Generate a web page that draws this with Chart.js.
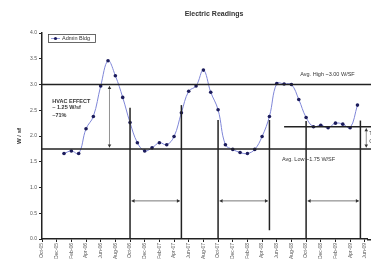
<!DOCTYPE html>
<html>
<head>
<meta charset="utf-8">
<script src="https://cdn.jsdelivr.net/npm/chart.js@4.4.1/dist/chart.umd.min.js"></script>
<style>
  html, body { margin: 0; padding: 0; background: #fff; overflow: hidden; }
</style>
</head>
<body>
<canvas id="chart" width="371" height="263"></canvas>
<script>
// months counted from Oct-05 (= 0), ticks every 2 months
const tickLabels = ['Oct-05','Dec-05','Feb-06','Apr-06','Jun-06','Aug-06','Oct-06','Dec-06',
  'Feb-07','Apr-07','Jun-07','Aug-07','Oct-07','Dec-07','Feb-08','Apr-08','Jun-08','Aug-08',
  'Oct-08','Dec-08','Feb-09','Apr-09','Jun-09'];

// Admin Bldg, monthly W/sf, Jan-06 .. May-09
const firstMonth = 3;
const readings = [
  1.66, 1.71, 1.66, 2.14, 2.38, 2.97, 3.46, 3.17, 2.75, 2.26, 1.87, 1.71,
  1.77, 1.87, 1.83, 1.99, 2.45, 2.87, 2.97, 3.28, 2.85, 2.51, 1.83, 1.74,
  1.68, 1.66, 1.74, 1.99, 2.38, 3.02, 3.01, 3.00, 2.71, 2.36, 2.18, 2.21,
  2.16, 2.25, 2.23, 2.16, 2.60
];

const avgHigh = 3.0;
const avgLow = 1.75;
const newLevel = 2.18;      // starts at month 33
const newLevelStart = 33;
const hvacMonth = 9.2;
// [month, top, bottom]
const dividers = [[12, 2.55, 0], [19, 2.6, 0], [24, 2.31, 0], [31, 2.31, 0.17], [36, 2.29, 0], [43.4, 2.3, 0]];
const spans = [[12, 19], [24, 31], [36, 43.4]];
const spanLevel = 0.74;

const lineColor = '#7f86d8';
const markColor = '#1c1c5c';
const ink = '#222';
const font = 'Liberation Sans, Arial, sans-serif';

function arrow(ctx, x, y, dx, dy) {
  // small filled head at (x,y) pointing along (dx,dy)
  const s = 3;
  ctx.beginPath();
  ctx.moveTo(x, y);
  ctx.lineTo(x - dx * s - dy * s * 0.6, y - dy * s - dx * s * 0.6);
  ctx.lineTo(x - dx * s + dy * s * 0.6, y - dy * s + dx * s * 0.6);
  ctx.closePath();
  ctx.fill();
}

const notes = {
  id: 'notes',
  afterDatasetsDraw(chart) {
    const { ctx, chartArea: a, scales: { x, y } } = chart;
    const edge = chart.width;
    ctx.save();

    // avg high / low
    ctx.strokeStyle = ink;
    ctx.lineWidth = 1.5;
    [avgHigh, avgLow].forEach(v => {
      const py = y.getPixelForValue(v);
      ctx.beginPath(); ctx.moveTo(a.left, py); ctx.lineTo(edge, py); ctx.stroke();
    });
    let py = y.getPixelForValue(newLevel);
    ctx.beginPath(); ctx.moveTo(x.getPixelForValue(newLevelStart), py); ctx.lineTo(edge, py); ctx.stroke();

    // dividers
    dividers.forEach(d => {
      const px = x.getPixelForValue(d[0]);
      ctx.beginPath(); ctx.moveTo(px, y.getPixelForValue(d[1])); ctx.lineTo(px, y.getPixelForValue(d[2])); ctx.stroke();
    });

    // x axis line carried to the edge
    ctx.beginPath(); ctx.moveTo(a.right, a.bottom + 0.75); ctx.lineTo(edge, a.bottom + 0.75); ctx.stroke();

    // span arrows
    ctx.strokeStyle = '#555';
    ctx.fillStyle = '#333';
    ctx.lineWidth = 0.8;
    py = y.getPixelForValue(spanLevel);
    spans.forEach(s => {
      const x0 = x.getPixelForValue(s[0]) + 1.5, x1 = x.getPixelForValue(s[1]) - 1.5;
      ctx.beginPath(); ctx.moveTo(x0, py); ctx.lineTo(x1, py); ctx.stroke();
      arrow(ctx, x0, py, -1, 0);
      arrow(ctx, x1, py, 1, 0);
    });

    // HVAC effect arrow
    let px = x.getPixelForValue(hvacMonth);
    const yt = y.getPixelForValue(avgHigh) + 1.5, yb = y.getPixelForValue(avgLow) - 1.5;
    ctx.strokeStyle = '#777';
    ctx.beginPath(); ctx.moveTo(px, yt); ctx.lineTo(px, yb); ctx.stroke();
    arrow(ctx, px, yt, 0, -1);
    arrow(ctx, px, yb, 0, 1);

    // right-edge difference arrow
    px = x.getPixelForValue(44.2);
    const ya = y.getPixelForValue(newLevel) + 1.5, yc = y.getPixelForValue(avgLow) - 1.5;
    ctx.beginPath(); ctx.moveTo(px, ya); ctx.lineTo(px, yc); ctx.stroke();
    arrow(ctx, px, ya, 0, -1);
    arrow(ctx, px, yc, 0, 1);

    // texts
    ctx.fillStyle = '#333';
    ctx.textBaseline = 'middle';
    ctx.textAlign = 'left';
    ctx.font = 'bold 5.5px ' + font;
    ctx.fillText('HVAC EFFECT', x.getPixelForValue(1.4), y.getPixelForValue(2.67));
    ctx.fillText('~ 1.25 W/sf', x.getPixelForValue(1.4), y.getPixelForValue(2.55));
    ctx.fillText('~71%', x.getPixelForValue(1.4), y.getPixelForValue(2.39));
    ctx.font = '5.5px ' + font;
    ctx.fillText('Avg. High ~3.00 W/SF', x.getPixelForValue(35.2), y.getPixelForValue(3.19));
    ctx.fillText('Avg. Low ~1.75 W/SF', x.getPixelForValue(32.7), y.getPixelForValue(1.55));
    ctx.fillText('The', x.getPixelForValue(44.6), y.getPixelForValue(2.05));
    ctx.fillText('Chg', x.getPixelForValue(44.6), y.getPixelForValue(1.9));

    // legend box
    const lx = a.left + 6, ly = a.top + 1;
    ctx.strokeStyle = '#444';
    ctx.lineWidth = 0.8;
    ctx.strokeRect(lx + 0.5, ly + 0.5, 47, 8);
    ctx.strokeStyle = lineColor;
    ctx.beginPath(); ctx.moveTo(lx + 3, ly + 4.5); ctx.lineTo(lx + 12, ly + 4.5); ctx.stroke();
    ctx.fillStyle = markColor;
    ctx.beginPath(); ctx.arc(lx + 7.5, ly + 4.5, 1.6, 0, Math.PI * 2); ctx.fill();
    ctx.fillStyle = '#333';
    ctx.font = '5.5px ' + font;
    ctx.fillText('Admin Bldg', lx + 14, ly + 4.8);

    // title
    ctx.font = 'bold 7px ' + font;
    ctx.textAlign = 'center';
    ctx.fillStyle = '#333';
    ctx.fillText('Electric Readings', 214, 14);

    ctx.restore();
  }
};

const ctx = document.getElementById('chart').getContext('2d');
new Chart(ctx, {
  type: 'line',
  data: {
    datasets: [{
      label: 'Admin Bldg',
      data: readings.map((v, i) => ({ x: firstMonth + i, y: v })),
      borderColor: lineColor,
      borderWidth: 1,
      tension: 0.4,
      pointRadius: 1.8,
      pointBackgroundColor: markColor,
      pointBorderWidth: 0,
      fill: false
    }]
  },
  options: {
    responsive: false,
    animation: false,
    devicePixelRatio: 1,
    layout: { padding: { top: 33, right: 0, bottom: 0, left: 0 } },
    plugins: { legend: { display: false }, title: { display: false }, tooltip: { enabled: false } },
    scales: {
      x: {
        type: 'linear',
        min: 0,
        max: 44.3,
        afterFit: s => { s.height = 24; s.paddingRight = 0; s.paddingLeft = 0; },
        grid: { drawOnChartArea: false, drawTicks: true, tickLength: 3, color: ink },
        border: { color: ink, width: 1.5 },
        ticks: {
          stepSize: 2,
          includeBounds: false,
          autoSkip: false,
          minRotation: 90,
          maxRotation: 90,
          padding: 1,
          color: '#555',
          font: { size: 5, family: font },
          callback: v => tickLabels[v / 2] ?? ''
        }
      },
      y: {
        min: 0,
        max: 4,
        afterFit: s => { s.width = 42; },
        grid: { drawOnChartArea: false, drawTicks: true, tickLength: 3, color: ink },
        border: { color: ink, width: 1.5 },
        title: { display: true, text: 'W / sf', color: '#333', font: { size: 6, weight: 'bold', family: font }, padding: { top: 16, bottom: 0 } },
        ticks: {
          stepSize: 0.5,
          padding: 2,
          color: '#555',
          font: { size: 5, family: font },
          callback: v => v.toFixed(1)
        }
      }
    }
  },
  plugins: [notes]
});
</script>
</body>
</html>
